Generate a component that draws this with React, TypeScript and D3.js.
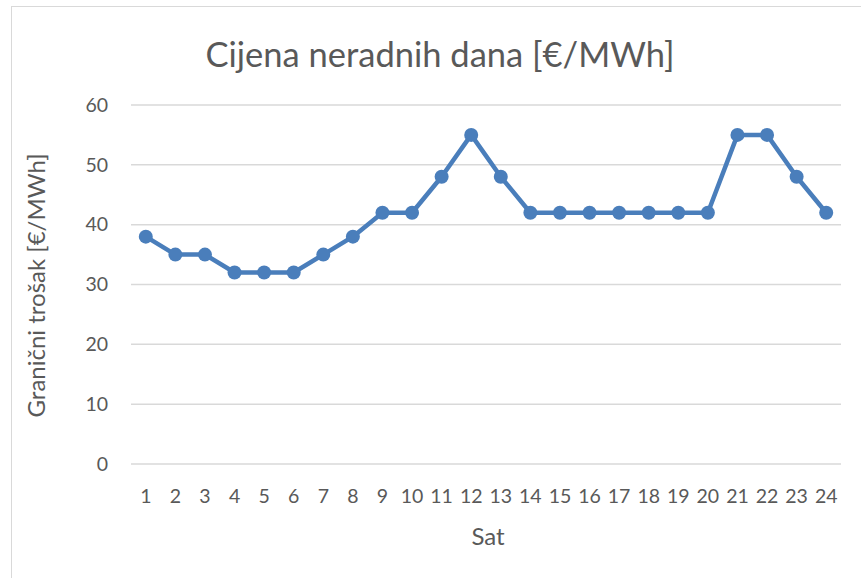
import React from "react";
import * as d3 from "d3";

const hours = ["1","2","3","4","5","6","7","8","9","10","11","12","13","14","15","16","17","18","19","20","21","22","23","24"];
const prices = [38,35,35,32,32,32,35,38,42,42,48,55,48,42,42,42,42,42,42,42,55,55,48,42];
const yTicks = [0,10,20,30,40,50,60];
const title = "Cijena neradnih dana [€/MWh]";
const yLabel = "Granični trošak [€/MWh]";
const xLabel = "Sat";

const W = 861, H = 578;
const left = 131, right = 841, top = 105, bottom = 464;
const font = "Lato, sans-serif";
const textColor = "#595959";

export default function App() {
  const x = d3.scaleBand<string>().domain(hours).range([left, right]);
  const y = d3.scaleLinear().domain([0, 60]).range([bottom, top]);
  const cx = (h: string) => (x(h) as number) + x.bandwidth() / 2;
  const line = d3.line<number>().x((_, i) => cx(hours[i])).y((d) => y(d));
  return (
    <svg width={W} height={H} style={{ position: "absolute", left: 0, top: 0, background: "#fff" }}>
      <rect x={11.5} y={6.5} width={W + 10} height={H + 10} fill="#fff" stroke="#d9d9d9" strokeWidth={1} />
      <text x={440} y={67} textAnchor="middle" fontFamily={font} fontSize={34.5} fill={textColor}>{title}</text>
      {yTicks.map((t) => (
        <g key={t}>
          <line x1={left} x2={right} y1={y(t)} y2={y(t)} stroke="#d9d9d9" strokeWidth={1.5} />
          <text x={108} y={y(t)} dy="0.35em" textAnchor="end" fontFamily={font} fontSize={19.5} fill={textColor}>{t}</text>
        </g>
      ))}
      {hours.map((h) => (
        <text key={h} x={cx(h)} y={503} textAnchor="middle" fontFamily={font} fontSize={19.5} fill={textColor}>{h}</text>
      ))}
      <path d={line(prices) as string} fill="none" stroke="#4A7EBB" strokeWidth={4.5} strokeLinejoin="round" />
      {prices.map((p, i) => (
        <circle key={i} cx={cx(hours[i])} cy={y(p)} r={7} fill="#4A7EBB" />
      ))}
      <text transform={`translate(45,${(top + bottom) / 2 + 1}) rotate(-90)`} textAnchor="middle" fontFamily={font} fontSize={24} fill={textColor}>{yLabel}</text>
      <text x={488} y={545} textAnchor="middle" fontFamily={font} fontSize={24} fill={textColor}>{xLabel}</text>
    </svg>
  );
}
